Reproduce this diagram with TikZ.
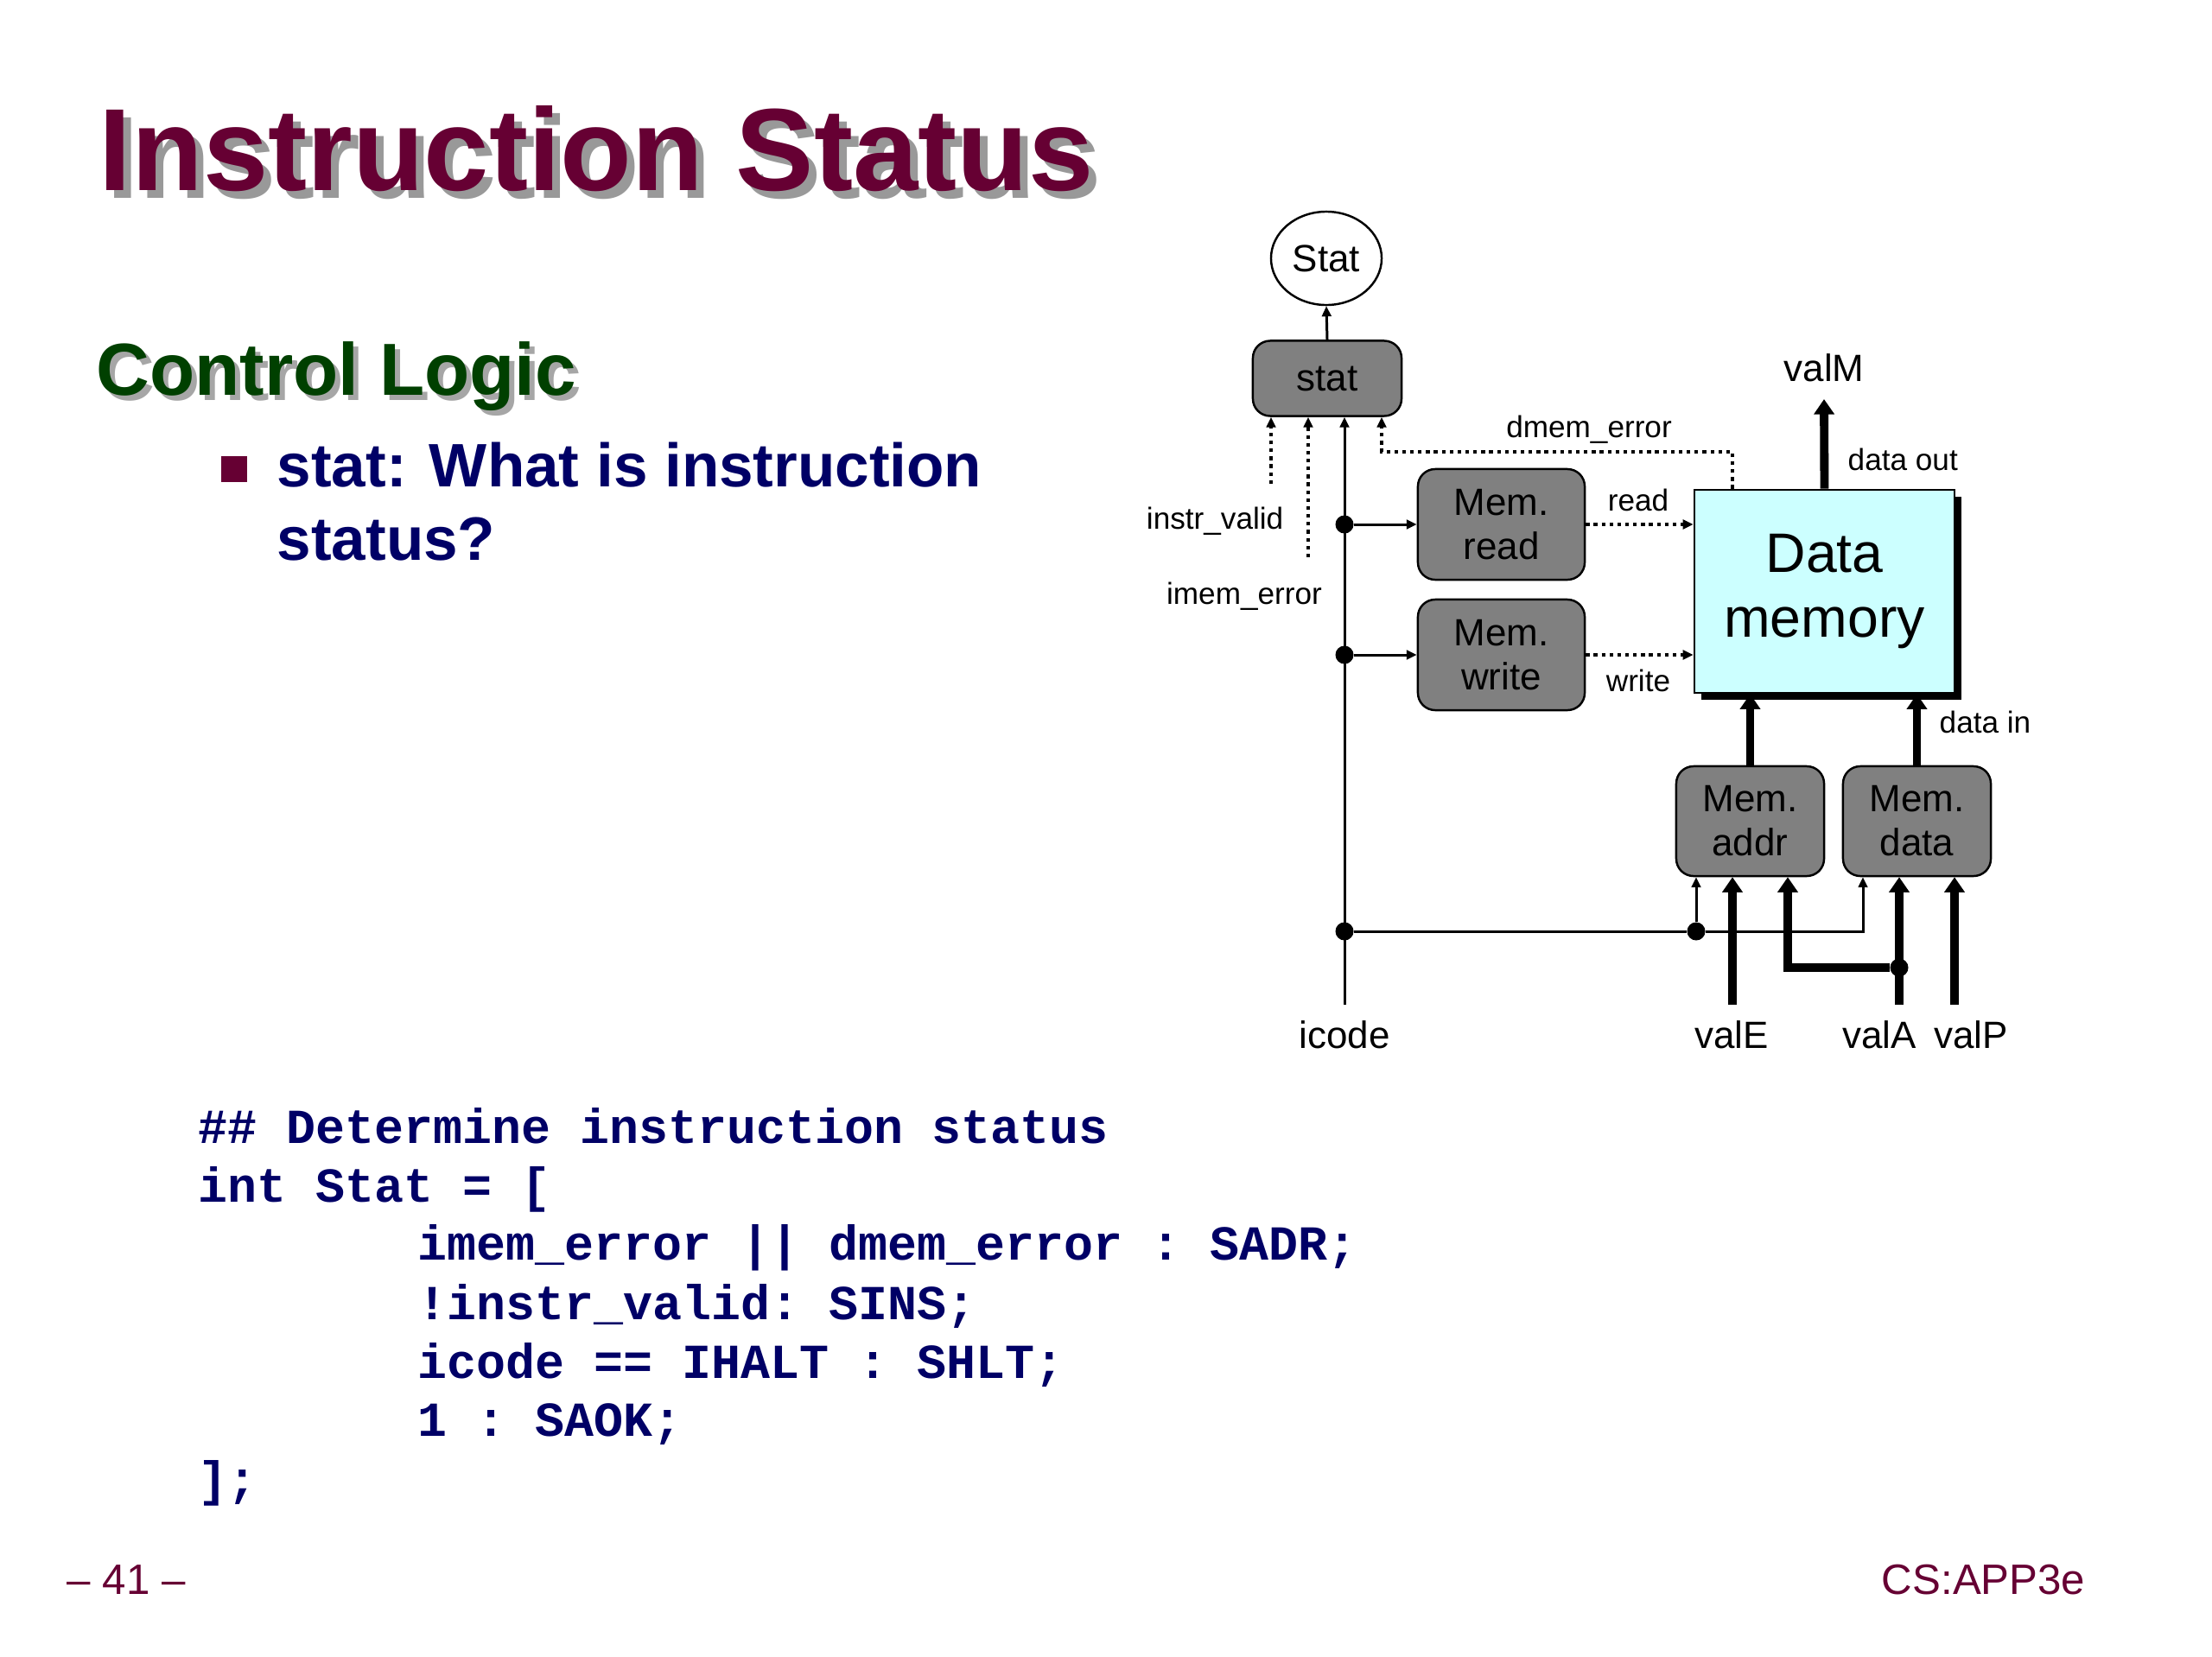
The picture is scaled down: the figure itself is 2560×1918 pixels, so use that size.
\documentclass[tikz,border=0pt]{standalone}
\usepackage{fontspec}
\setmainfont{Liberation Sans}
\setmonofont{Liberation Mono}
\usetikzlibrary{arrows.meta}
\usetikzlibrary{shapes.geometric}
\usetikzlibrary{shadows}

\definecolor{titlered}{RGB}{102,0,51}
\definecolor{logicgreen}{RGB}{0,64,0}
\definecolor{textblue}{RGB}{0,0,102}
\definecolor{unitgray}{RGB}{128,128,128}
\definecolor{memcyan}{RGB}{204,255,255}
\newcommand{\shadowtext}[3]{\makebox[0pt][l]{\hspace*{#1}\raisebox{-#1}{\textcolor{#2}{#3}}}#3}

\begin{document}
\begin{tikzpicture}[x=0.01cm, y=-0.01cm,
  every node/.style={inner sep=0pt},
  lbl/.style={font=\fontsize{10}{12}\selectfont, anchor=base},
  sig/.style={font=\fontsize{12.5}{14.5}\selectfont, anchor=base},
  unitbox/.style={draw, line width=0.7pt, fill=unitgray, rounded corners=0.2cm, align=center, font=\fontsize{12.5}{14.5}\selectfont},
  wire/.style={line width=0.85pt, -{Triangle[length=3.4pt,width=3pt]}},
  bus/.style={line width=2.8pt, -{Triangle[length=5pt,width=6.5pt]}},
  ctrl/.style={line width=1.3pt, dash pattern=on 1.2pt off 1.4pt, -{Triangle[length=3.4pt,width=3pt]}},
  junc/.style={circle, fill=black, minimum size=0.21cm},
  code/.style={anchor=base west, font=\fontsize{16.1}{19}\selectfont\ttfamily\bfseries, text=textblue}]
\useasboundingbox (0,0) rectangle (2560,1918);

% Title and bullet text
\node[anchor=base west, font=\fontsize{38.5}{40}\selectfont\bfseries, text=titlered] (title) at (114,220) {\shadowtext{0.09cm}{black!40}{Instruction Status}};
\node[anchor=base west, font=\fontsize{24.3}{28}\selectfont\bfseries, text=logicgreen] (logic) at (111,457) {\shadowtext{0.06cm}{black!35}{Control Logic}};
\node[fill=titlered, minimum size=0.29cm] (bullet) at (271,543) {};
\node[anchor=base west, font=\fontsize{20.2}{24}\selectfont\bfseries, text=textblue] (point1) at (320,563) {stat: What is instruction};
\node[anchor=base west, font=\fontsize{20.2}{24}\selectfont\bfseries, text=textblue] (point2) at (320,648) {status?};

% HCL code
\node[code] (hcl1) at (229,1323) {\#\# Determine instruction status};
\node[code] (hcl2) at (229,1391) {int Stat = [};
\node[code] (hcl3) at (483,1458) {imem\_error || dmem\_error : SADR;};
\node[code] (hcl4) at (483,1527) {!instr\_valid: SINS;};
\node[code] (hcl5) at (483,1595) {icode == IHALT : SHLT;};
\node[code] (hcl6) at (483,1662) {1 : SAOK;};
\node[code] (hcl7) at (229,1731) {];};

% Footer
\node[anchor=base west, font=\fontsize{14}{16}\selectfont, text=titlered] (page) at (77,1845) {\textendash{} 41 \textendash};
\node[anchor=base east, font=\fontsize{14}{16}\selectfont, text=titlered] (book) at (2414,1845) {CS:APP3e};

% Units
\node[draw, ellipse, line width=0.7pt, minimum width=1.28cm, minimum height=1.08cm, font=\fontsize{12.5}{14.5}\selectfont] (Stat) at (1535,299) {Stat};
\node[unitbox, minimum width=1.72cm, minimum height=0.87cm] (stat) at (1536,438) {stat};
\node[unitbox, minimum width=1.93cm, minimum height=1.28cm] (mread) at (1737.5,607) {Mem.\\read};
\node[unitbox, minimum width=1.93cm, minimum height=1.28cm] (mwrite) at (1737.5,758) {Mem.\\write};
\node[draw, line width=0.7pt, fill=memcyan, minimum width=3.01cm, minimum height=2.35cm, align=center, font=\fontsize{18.3}{21.5}\selectfont,
  drop shadow={shadow xshift=0.08cm, shadow yshift=-0.08cm, opacity=1, fill=black}] (dmem) at (2111.5,684.5) {Data\\memory};
\node[unitbox, minimum width=1.71cm, minimum height=1.27cm] (maddr) at (2025.5,950.5) {Mem.\\addr};
\node[unitbox, minimum width=1.71cm, minimum height=1.27cm] (mdata) at (2218.5,950.5) {Mem.\\data};

% Signal ends and junctions
\coordinate (iv) at (1471,560);
\coordinate (ie) at (1514,645);
\coordinate (ic) at (1556,1163);
\coordinate (de) at (1599,523);
\coordinate (dt) at (2005,523);
\coordinate (vm) at (2111,462);
\coordinate (ct) at (2156,1078);
\coordinate (vE) at (2005,1163);
\coordinate (ab) at (2069,1120);
\coordinate (vA) at (2198,1163);
\coordinate (vP) at (2262,1163);
\node[junc] (j1) at (1556,607) {};
\node[junc] (j2) at (1556,758) {};
\node[junc] (j3) at (1556,1078) {};
\node[junc] (j4) at (1963,1078) {};
\node[junc] (j5) at (2198,1120) {};

% Connections
\draw[wire] (stat.north) -- (Stat.south);
\draw[ctrl] (iv) -- (iv |- stat.south);
\draw[ctrl] (ie) -- (ie |- stat.south);
\draw[wire] (ic) -- (ic |- stat.south);
\draw[ctrl] (dt |- dmem.north) -- (dt) -- (de) -- (de |- stat.south);
\draw[wire] (j1) -- (mread);
\draw[wire] (j2) -- (mwrite);
\draw[ctrl] (mread) -- (mread -| dmem.west);
\draw[ctrl] (mwrite) -- (mwrite -| dmem.west);
\draw[bus] (dmem.north) -- (vm);
\draw[bus] (maddr.north) -- (maddr.north |- dmem.south);
\draw[bus] (mdata.north) -- (mdata.north |- dmem.south);
\draw[line width=0.85pt] (j3) -- (j4);
\draw[wire] (j4) -- (j4 |- maddr.south);
\draw[wire] (j4) -- (ct) -- (ct |- mdata.south);
\draw[bus] (vE) -- (vE |- maddr.south);
\draw[bus] (vA) -- (vA |- mdata.south);
\draw[bus] (j5) -- (ab) -- (ab |- maddr.south);
\draw[bus] (vP) -- (vP |- mdata.south);

% Labels
\node[lbl, anchor=base east] (livalid) at (1486,612) {instr\_valid};
\node[lbl] (limem) at (1440,699) {imem\_error};
\node[lbl] (ldmem) at (1839,506) {dmem\_error};
\node[lbl] (lread) at (1896,591) {read};
\node[lbl] (lwrite) at (1896,800) {write};
\node[lbl, anchor=base west] (ldout) at (2138,544) {data out};
\node[lbl, anchor=base west] (ldin) at (2244,848) {data in};
\node[sig] (lvalM) at (2111,441) {valM};
\node[sig] (licode) at (1556,1213) {icode};
\node[sig] (lvalE) at (2004,1213) {valE};
\node[sig] (lvalA) at (2175,1213) {valA};
\node[sig] (lvalP) at (2281,1213) {valP};
\end{tikzpicture}
\end{document}
